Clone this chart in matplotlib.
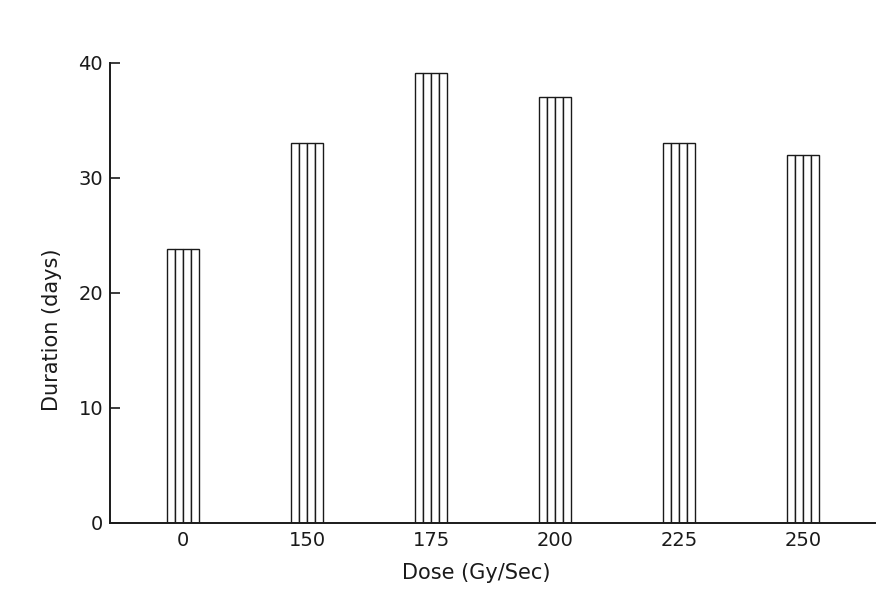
import matplotlib
matplotlib.use("Agg")
import matplotlib.pyplot as plt
import numpy as np

doses = ["0", "150", "175", "200", "225", "250"]
duration_days = [23.8, 33.0, 39.1, 37.0, 33.0, 32.0]
y_ticks = [0, 10, 20, 30, 40]

plt.rcParams['font.family'] = ['DejaVu Sans']

fig = plt.figure(figsize=(8.88, 5.92), dpi=100)
ax = fig.add_axes([0.124, 0.1166, 0.861, 0.777])

x = np.arange(len(doses))
bar_w = 0.26
n_strips = 4
sw = bar_w / n_strips
for k in range(n_strips):
    offs = -bar_w / 2 + sw * (k + 0.5)
    ax.bar(x + offs, duration_days, width=sw, facecolor="white",
           edgecolor="#1a1a1a", linewidth=1.0)

ax.set_xlim(-0.59, 5.58)
ax.set_ylim(0, 40)
ax.set_xticks(x)
ax.set_xticklabels(doses)
ax.set_yticks(y_ticks)

for s in ["top", "right"]:
    ax.spines[s].set_visible(False)
for s in ["left", "bottom"]:
    ax.spines[s].set_linewidth(1.4)
    ax.spines[s].set_color("#1a1a1a")

ax.tick_params(axis="y", direction="in", length=7, width=1.2, pad=5,
               labelsize=14, colors="#1a1a1a")
ax.tick_params(axis="x", length=0, pad=6, labelsize=14, colors="#1a1a1a")

ax.set_xlabel("Dose (Gy/Sec)", fontsize=15, color="#1a1a1a")
ax.set_ylabel("Duration (days)", fontsize=15, color="#1a1a1a")
ax.xaxis.set_label_coords(0.479, -0.088)
ax.yaxis.set_label_coords(-0.063, 0.42)

fig.savefig("out.png", dpi=100)
